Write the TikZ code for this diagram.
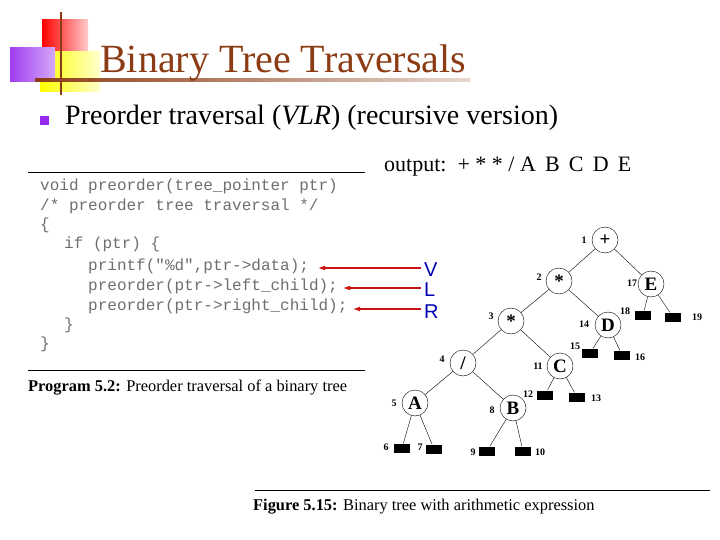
\documentclass[tikz,border=0pt]{standalone}
\usepackage{fontspec}
\setmainfont{Liberation Serif}
\setsansfont{Liberation Sans}
\setmonofont{Liberation Mono}
\usetikzlibrary{arrows.meta}
\definecolor{ttl}{RGB}{140,60,20}
\definecolor{purp}{RGB}{150,40,240}
\definecolor{arr}{RGB}{200,20,20}
\definecolor{codeg}{RGB}{110,110,110}
\begin{document}
\begin{tikzpicture}[x=1pt,y=-1pt,
 tn/.style={circle,draw,thin,minimum size=26pt,inner sep=0pt,font=\bfseries\fontsize{19}{19}\selectfont},
 lf/.style={fill=black,minimum width=16pt,minimum height=9pt,inner sep=0pt},
 lb/.style={font=\bfseries\fontsize{10}{10}\selectfont,inner sep=1pt},
 cd/.style={anchor=west,font=\ttfamily\fontsize{16}{16}\selectfont,text=codeg,inner sep=0pt},
 ar/.style={arr,line width=1.2pt,-{Latex[length=7pt,width=5pt]}},
 vlr/.style={anchor=west,text=blue!70!black,font=\sffamily\fontsize{20}{20}\selectfont,inner sep=0pt}]
\useasboundingbox (0,0) rectangle (720,540);
% logo
\shade[left color=red,right color=red!20] (42,20) rectangle (88,52);
\shade[left color=yellow,right color=yellow!20] (40,52) rectangle (100,92);
\shade[left color=purp!90,right color=purp!40] (10,48) rectangle (55,82);
\draw[ttl,line width=2pt] (61,12) -- (61,95);
\shade[left color=ttl,right color=ttl!20] (35,78.5) rectangle (470,81.5);
\node[anchor=base west,text=ttl,font=\fontsize{40}{40}\selectfont,inner sep=0pt] (title) at (100,73) {Binary Tree Traversals};
\fill[purp] (40,116) rectangle (49,125);
\node[anchor=base west,font=\fontsize{28}{28}\selectfont,inner sep=0pt] (bul) at (65,125) {Preorder traversal (\textit{VLR}) (recursive version)};
\node[anchor=base west,font=\fontsize{22}{22}\selectfont,inner sep=0pt] (out) at (384,172) {output:\ \ + * * / A\,\ B\,\ C\,\ D\,\ E};
% code
\draw[thick] (28,172) -- (365,172);
\draw[thick] (28,370) -- (365,370);
\node[cd] (c1) at (40,186) {void preorder(tree\_pointer ptr)};
\node[cd] (c2) at (40,206) {/* preorder tree traversal */};
\node[cd] (c3) at (40,225) {\{};
\node[cd] (c4) at (64,244) {if (ptr) \{};
\node[cd] (c5) at (88,266) {printf("\%d",ptr->data);};
\node[cd] (c6) at (88,286) {preorder(ptr->left\_child);};
\node[cd] (c7) at (88,306) {preorder(ptr->right\_child);};
\node[cd] (c8) at (64,325) {\}};
\node[cd] (c9) at (40,344) {\}};
\node[anchor=base west,font=\fontsize{16.4}{16.4}\selectfont,inner sep=0pt] (cap1) at (28,391) {\textbf{Program 5.2:} Preorder traversal of a binary tree};
\node[vlr] (V) at (424,270) {V};
\node[vlr] (L) at (424,290) {L};
\node[vlr] (R) at (424,312) {R};
\coordinate (v0) at (421,268);
\coordinate (l0) at (421,288);
\coordinate (r0) at (421,309);
\draw[ar] (v0) -- (318,268);
\draw[ar] (l0) -- (343,288);
\draw[ar] (r0) -- (353,309);
% tree
\node[tn] (n1) at (605,240) {+};
\node[tn] (n2) at (559,281) {*};
\node[tn] (n17) at (651,284) {E};
\node[tn] (n3) at (511,321) {*};
\node[tn] (n14) at (608,325) {D};
\node[tn] (n4) at (463,363) {/};
\node[tn] (n11) at (560,366) {C};
\node[tn] (n5) at (415,403) {A};
\node[tn] (n8) at (513,408) {B};
\node[lf] (n18) at (643,315) {};
\node[lf] (n19) at (673,317) {};
\node[lf] (n15) at (590,353) {};
\node[lf] (n16) at (622,355) {};
\node[lf] (n12) at (545,395) {};
\node[lf] (n13) at (577,397) {};
\node[lf] (n6) at (402,448) {};
\node[lf] (n7) at (434,449) {};
\node[lf] (n9) at (487,451) {};
\node[lf] (n10) at (523,451) {};
\foreach \a/\b in {n1/n2,n1/n17,n2/n3,n2/n14,n3/n4,n3/n11,n4/n5,n4/n8,n17/n18,n17/n19,n14/n15,n14/n16,n11/n12,n11/n13,n5/n6,n5/n7,n8/n9,n8/n10}
  \draw[thin] (\a) -- (\b);
\foreach \n/\x/\y/\t in {l1/584/240/1,l2/539/277/2,l17/632/283/17,l3/491/316/3,l14/584/324/14,l4/442/359/4,l11/538/366/11,l5/394/403/5,l8/492/410/8,l18/625/311/18,l19/697/317/19,l15/575/346/15,l16/640/357/16,l12/528/394/12,l13/596/398/13,l6/386/447/6,l7/420/447/7,l9/473/452/9,l10/540/452/10}
  \node[lb] (\n) at (\x,\y) {\t};
\draw[thick] (255,490) -- (710,490);
\node[anchor=base west,font=\fontsize{16.4}{16.4}\selectfont,inner sep=0pt] (cap2) at (253,510) {\textbf{Figure 5.15:} Binary tree with arithmetic expression};
\end{tikzpicture}
\end{document}
